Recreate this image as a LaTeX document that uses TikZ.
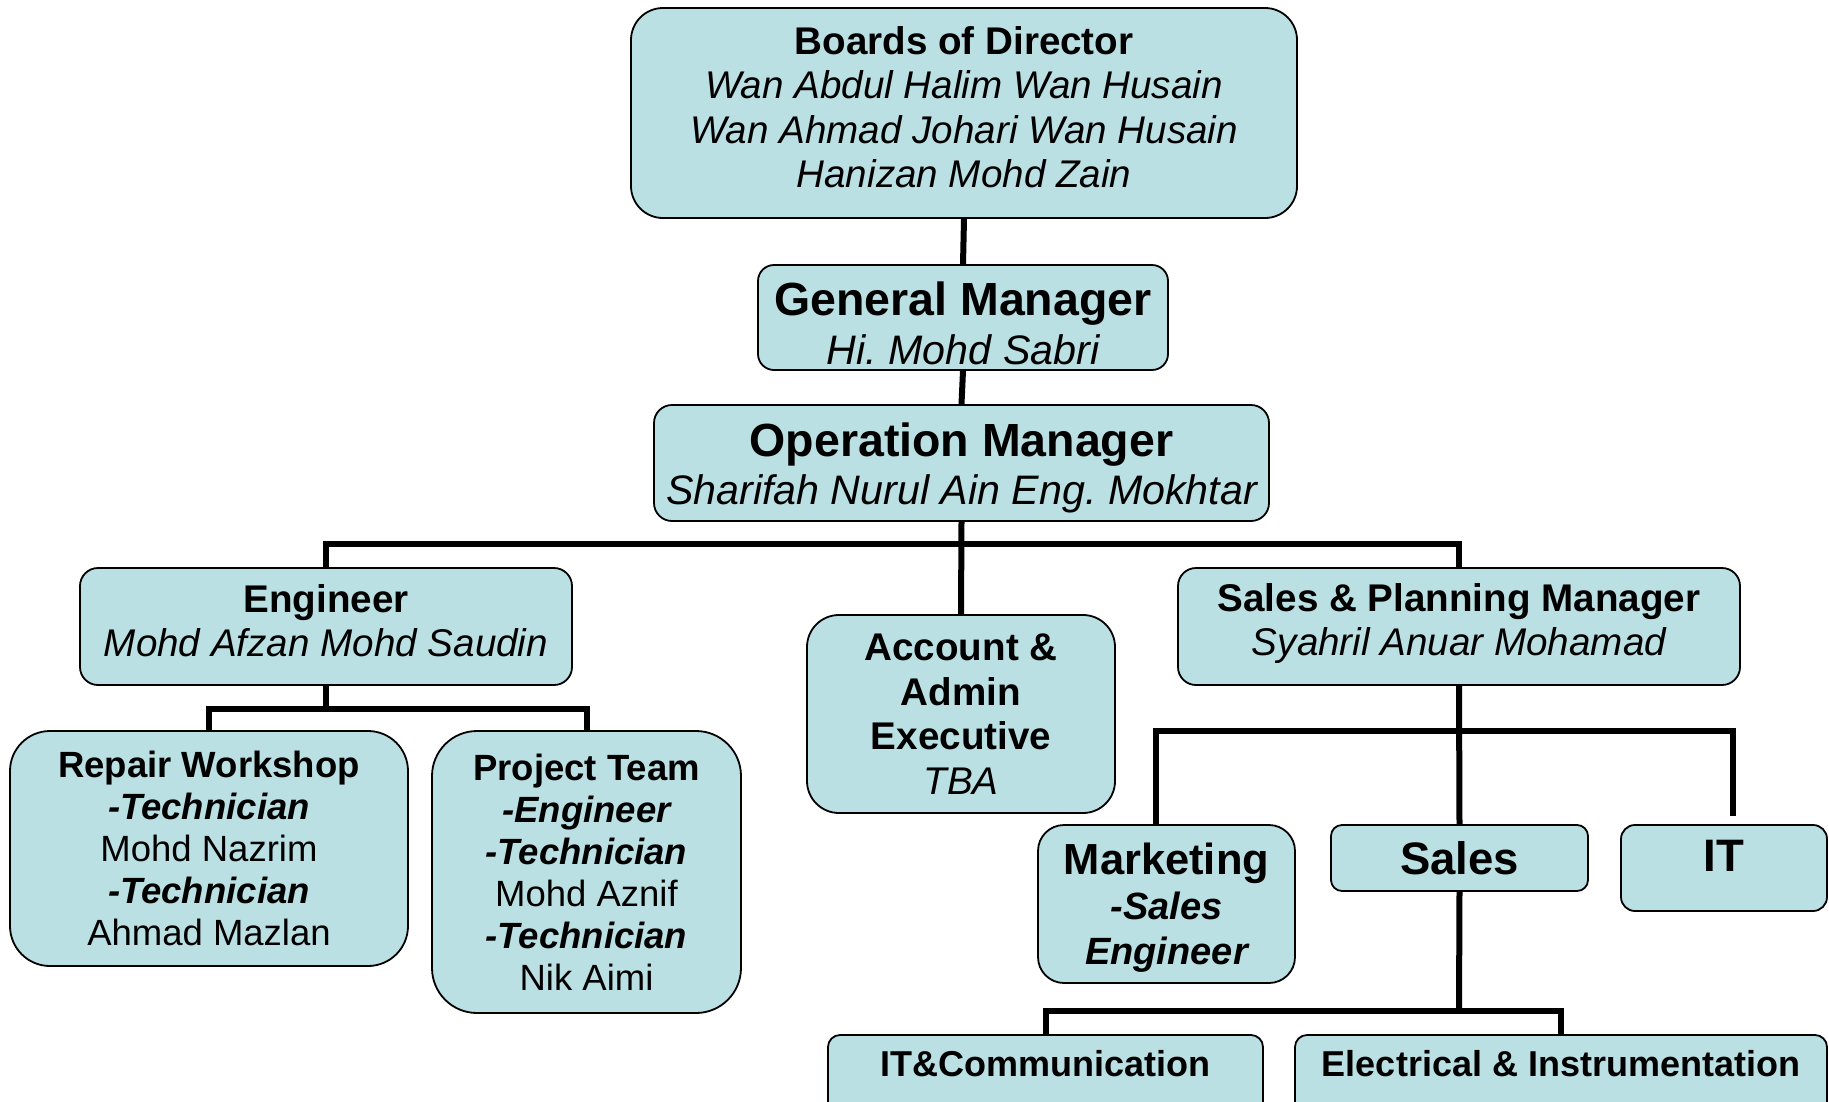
\documentclass[tikz,border=0pt]{standalone}
\usepackage{fontspec}
\setmainfont{Liberation Sans}
\frenchspacing
\definecolor{boxfill}{RGB}{187,224,227}
\newcommand{\fsA}{\fontsize{38.6}{44.5}\selectfont}
\newcommand{\fsBig}{\fontsize{46.5}{48.5}\selectfont}
\newcommand{\fsSub}{\fontsize{41.2}{48.5}\selectfont}
\newcommand{\fsD}{\fontsize{36.5}{42}\selectfont}
\newcommand{\fsMk}{\fontsize{43.5}{45.5}\selectfont}
\newcommand{\fsS}{\fontsize{45.5}{48}\selectfont}
\newcommand{\fsE}{\fontsize{36}{42}\selectfont}
\tikzset{
  orgbox/.style={draw=black, line width=1.8pt, fill=boxfill, inner sep=0pt, align=center},
  orgtext/.style={inner sep=0pt, align=center},
  conn/.style={draw=black, line width=6pt}
}
\begin{document}
\begin{tikzpicture}[x=1pt,y=-1pt]
\fill[white] (0,0) rectangle (1829,1101);
\useasboundingbox (0,0) rectangle (1829,1101);
\clip (0,0) rectangle (1829,1101);

\coordinate (b1) at (962,544);
\coordinate (b2) at (326,709);
\coordinate (b3) at (1459,731);
\coordinate (b4) at (1459,1011);

% boxes
\node[orgbox, rounded corners=32pt, minimum width=666pt, minimum height=210pt] (bod) at (964,113) {};
\node[orgtext, font=\fsA] (bodtxt) at ([yshift=6pt]bod.center)
  {\bfseries Boards of Director\\ \itshape Wan Abdul Halim Wan Husain\\ \itshape Wan Ahmad Johari Wan Husain\\ \itshape Hanizan Mohd Zain};

\node[orgbox, rounded corners=16pt, minimum width=410pt, minimum height=105pt] (gm) at (963,317.5) {};
\node[orgtext, font=\fsSub] (gmtxt) at ([yshift=-6pt]gm.center)
  {{\fsBig\bfseries General Manager}\\ \itshape Hi. Mohd Sabri};

\node[orgbox, rounded corners=18pt, minimum width=615pt, minimum height=116pt] (om) at (961.5,463) {};
\node[orgtext, font=\fsSub] (omtxt) at ([yshift=-5pt]om.center)
  {{\fsBig\bfseries Operation Manager}\\ \itshape Sharifah Nurul Ain Eng. Mokhtar};

\node[orgbox, rounded corners=18pt, minimum width=492pt, minimum height=117pt] (eng) at (326,626.5) {};
\node[orgtext, font=\fsA] (engtxt) at ([yshift=6pt]eng.center)
  {\bfseries Engineer\\ \itshape Mohd Afzan Mohd Saudin};

\node[orgbox, rounded corners=32pt, minimum width=308pt, minimum height=198pt, font=\fsA] (acc) at (961,714)
  {\bfseries Account \&\\ \bfseries Admin\\ \bfseries Executive\\ \itshape TBA};

\node[orgbox, rounded corners=18pt, minimum width=562pt, minimum height=117pt] (sp) at (1459,626.5) {};
\node[orgtext, font=\fsA] (sptxt) at ([yshift=3pt]sp.center)
  {\bfseries Sales \& Planning Manager\\ \itshape Syahril Anuar Mohamad};

\node[orgbox, rounded corners=40pt, minimum width=398pt, minimum height=235pt, font=\fsD] (rw) at (209,848.5)
  {\bfseries Repair Workshop\\ \bfseries\itshape -Technician\\ Mohd Nazrim\\ \bfseries\itshape -Technician\\ Ahmad Mazlan};
\node[orgbox, rounded corners=45pt, minimum width=309pt, minimum height=282pt, font=\fsD] (pt) at (586.5,872)
  {\bfseries Project Team\\ \bfseries\itshape -Engineer\\ \bfseries\itshape -Technician\\ Mohd Aznif\\ \bfseries\itshape -Technician\\ Nik Aimi};

\node[orgbox, rounded corners=26pt, minimum width=257pt, minimum height=158pt] (mkt) at (1166.5,904) {};
\node[orgtext, font=\fontsize{38}{45}\selectfont] (mkttxt) at ([yshift=-4pt]mkt.center)
  {{\fsMk\bfseries Marketing}\\ \bfseries\itshape -Sales\\ \bfseries\itshape Engineer};

\node[orgbox, rounded corners=11pt, minimum width=257pt, minimum height=66pt, font=\fsS\bfseries] (sales) at (1459.5,858)
  {Sales};
\node[orgbox, rounded corners=14pt, minimum width=206pt, minimum height=86pt, font=\fsS\bfseries, text depth=24pt] (it) at (1724,868)
  {IT};
\node[orgbox, rounded corners=12pt, minimum width=435pt, minimum height=90pt, font=\fsE\bfseries, text depth=34pt] (itc) at (1045.5,1080)
  {IT\&Communication};
\node[orgbox, rounded corners=12pt, minimum width=532pt, minimum height=90pt, font=\fsE\bfseries, text depth=34pt] (ei) at (1561,1080)
  {Electrical \& Instrumentation};

% connectors
\draw[conn] (bod.south) -- (gm.north);
\draw[conn] (gm.south) -- (om.north);
\draw[conn] (om.south) -- (acc.north);
\draw[conn] (eng.north) -- (eng.north |- b1) -- (sp.north |- b1) -- (sp.north);
\draw[conn] (eng.south) -- (b2);
\draw[conn] (rw.north) -- (rw.north |- b2) -- (pt.north |- b2) -- (pt.north);
\draw[conn] (sp.south) -- (sales.north);
\draw[conn, shorten >=8pt] ([xshift=-11pt]mkt.north) |- (b3) -| ([xshift=9pt]it.north);
\draw[conn] (sales.south) -- (b4);
\draw[conn] (itc.north) -- (itc.north |- b4) -- (ei.north |- b4) -- (ei.north);
\end{tikzpicture}
\end{document}
